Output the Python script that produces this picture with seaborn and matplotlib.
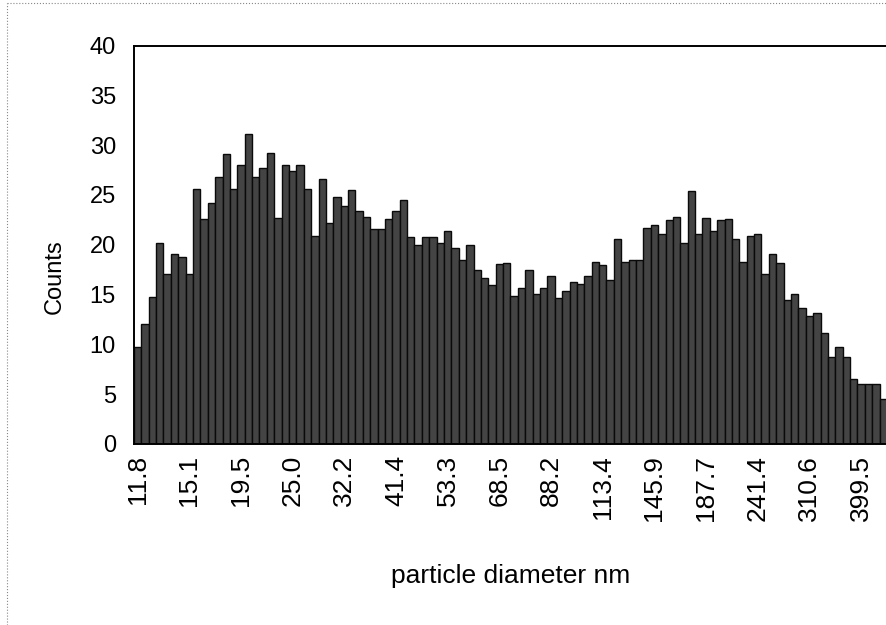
import numpy as np
import pandas as pd
import seaborn as sns
import matplotlib.pyplot as plt
from matplotlib.lines import Line2D

# counts per size channel (log-spaced bins)
counts = [
    9.7, 12.0, 14.8, 20.2, 17.1, 19.1, 18.8, 17.1, 25.6, 22.6,
    24.2, 26.8, 29.1, 25.6, 28.0, 31.1, 26.8, 27.7, 29.2, 22.7,
    28.0, 27.4, 28.0, 25.6, 20.9, 26.6,
    22.2, 24.8, 23.9, 25.5, 23.4, 22.8, 21.6, 21.6, 22.6, 23.4,
    24.5, 20.8, 20.0, 20.8, 20.8, 20.2, 21.4, 19.7, 18.5, 20.0,
    17.5, 16.7, 16.0, 18.1,
    18.2, 14.9, 15.7, 17.5, 15.1, 15.7, 16.9, 14.7, 15.4, 16.3,
    16.1, 16.9, 18.3, 18.0, 16.5, 20.6, 18.3, 18.5, 18.5, 21.7,
    22.0, 21.1, 22.5, 22.8, 20.2,
    25.4, 21.1, 22.7, 21.4, 22.5, 22.6, 20.6, 18.3, 20.9, 21.1,
    17.1, 19.1, 18.2, 14.5, 15.1, 13.7, 12.8, 13.1, 11.1, 8.7,
    9.7, 8.7, 6.5, 6.0, 6.0, 6.0, 4.5,
]
tick_labels = ["11.8", "15.1", "19.5", "25.0", "32.2", "41.4", "53.3", "68.5",
               "88.2", "113.4", "145.9", "187.7", "241.4", "310.6", "399.5"]
label_step = 7

sns.set_theme(style="white")
plt.rcParams['font.family'] = ['Liberation Sans', 'DejaVu Sans']
plt.rcParams['text.color'] = 'black'
plt.rcParams['axes.labelcolor'] = 'black'
plt.rcParams['xtick.color'] = 'black'
plt.rcParams['ytick.color'] = 'black'

df = pd.DataFrame({'bin': np.arange(len(counts)), 'count': counts})

fig = plt.figure(figsize=(8.87, 6.25), dpi=100)
ax = fig.add_axes([0.151, 0.2896, 0.849, 0.6376])

sns.barplot(data=df, x='bin', y='count', color='#444444', edgecolor='#0a0a0a',
            linewidth=1.0, width=1.0, saturation=1, errorbar=None, ax=ax)

n = len(counts)
ax.set_xlim(-0.5, n - 0.8)
ax.set_ylim(0, 40)
ax.set_yticks(np.arange(0, 41, 5))
ax.tick_params(axis='y', labelsize=17, length=4, direction='inout', pad=11)

ax.set_xticks(np.arange(0, n, label_step)[:len(tick_labels)])
ax.set_xticklabels(tick_labels, rotation=90, fontsize=19)
ax.set_xticks(np.arange(-0.5, n, 1), minor=True)
ax.tick_params(axis='x', which='major', length=0, pad=8)
ax.tick_params(axis='x', which='minor', length=5, direction='out', width=0.8)

for side in ['left', 'top', 'bottom']:
    ax.spines[side].set_color('black')
    ax.spines[side].set_linewidth(1.4)
ax.spines['right'].set_visible(False)

ax.set_ylabel('Counts', fontsize=17)
ax.yaxis.set_label_coords(-0.09, 0.42)
ax.set_xlabel('particle diameter nm', fontsize=19)
ax.xaxis.set_label_coords(0.5, -0.30)

# faint outer chart border
fig.add_artist(Line2D([7 / 887, 1], [1 - 3 / 625, 1 - 3 / 625], color='#888888',
                      lw=0.8, ls=':', transform=fig.transFigure))
fig.add_artist(Line2D([7 / 887, 7 / 887], [0, 1 - 3 / 625], color='#888888',
                      lw=0.8, ls=':', transform=fig.transFigure))

fig.savefig('out.png', dpi=100)
